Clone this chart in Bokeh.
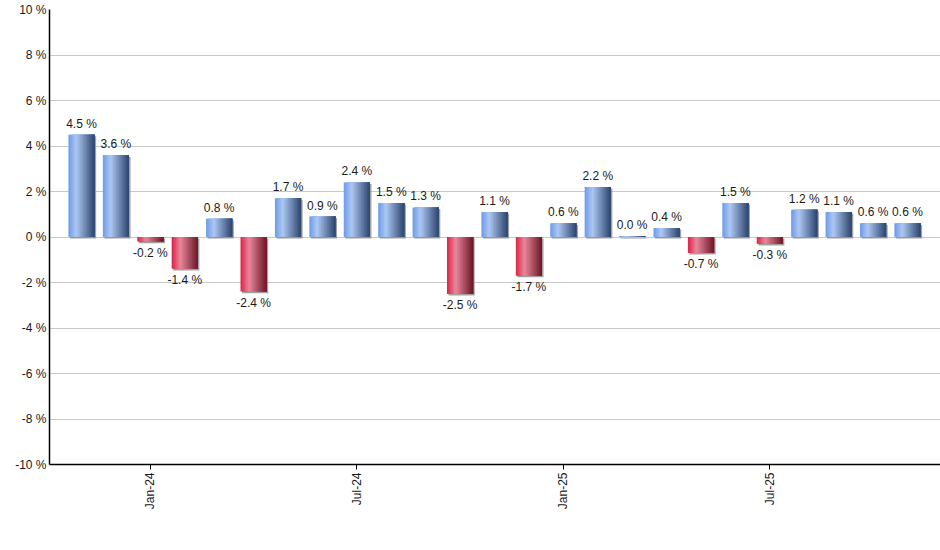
from bokeh.plotting import figure
from bokeh.models import ColumnDataSource, FixedTicker, Range1d
from bokeh.core.properties import value
from bokeh.embed import file_html
from bokeh.resources import INLINE
from math import pi

# monthly change, Nov-23 .. Nov-25
months = ['Nov-23', 'Dec-23', 'Jan-24', 'Feb-24', 'Mar-24', 'Apr-24', 'May-24',
          'Jun-24', 'Jul-24', 'Aug-24', 'Sep-24', 'Oct-24', 'Nov-24', 'Dec-24',
          'Jan-25', 'Feb-25', 'Mar-25', 'Apr-25', 'May-25', 'Jun-25', 'Jul-25',
          'Aug-25', 'Sep-25', 'Oct-25', 'Nov-25']
changes = [4.5, 3.6, -0.2, -1.4, 0.8, -2.4, 1.7, 0.9, 2.4, 1.5, 1.3, -2.5, 1.1,
           -1.7, 0.6, 2.2, 0.04, 0.4, -0.7, 1.5, -0.3, 1.2, 1.1, 0.6, 0.6]
tick_months = ['Jan-24', 'Jul-24', 'Jan-25', 'Jul-25']
y_ticks = [-10, -8, -6, -4, -2, 0, 2, 4, 6, 8, 10]

# gradient stops (left edge, highlight, right edge)
blue_stops = [(0.0, (0x6c, 0x9b, 0xe8)), (0.3, (0xad, 0xc8, 0xf3)), (1.0, (0x2c, 0x44, 0x6e))]
red_stops = [(0.0, (0xdc, 0x22, 0x48)), (0.33, (0xe8, 0x88, 0x9c)), (1.0, (0x6c, 0x16, 0x26))]


def grad(stops, t):
    for (t0, c0), (t1, c1) in zip(stops, stops[1:]):
        if t <= t1:
            f = (t - t0) / (t1 - t0)
            return '#%02x%02x%02x' % tuple(int(a + (b - a) * f) for a, b in zip(c0, c1))
    return '#%02x%02x%02x' % stops[-1][1]


x = list(range(len(months)))
bar_w = 0.76
n_strips = 18

p = figure(width=940, height=550, x_range=Range1d(-0.93, 24.96), y_range=Range1d(-10, 10),
           output_backend="svg", toolbar_location=None,
           min_border_left=49, min_border_right=0, min_border_top=9, min_border_bottom=86)
p.outline_line_color = None
p.background_fill_color = 'white'
p.xgrid.grid_line_color = None
p.ygrid.grid_line_color = '#c8c8c8'
p.ygrid.ticker = FixedTicker(ticks=y_ticks)

# shadow behind bars
p.vbar(x=[i + 0.045 for i in x], width=bar_w,
       top=[max(v, 0) - 0.07 for v in changes], bottom=[min(v, 0) - 0.07 for v in changes],
       fill_color='#8a8a8a', line_color=None, fill_alpha=0.8)

# bars drawn as overlapping strips (each to the bar's right edge) to fake the gradient
ql, qr, qt, qb, qc = [], [], [], [], []
sw = bar_w / n_strips
for i, v in zip(x, changes):
    stops = blue_stops if v >= 0 else red_stops
    for k in range(n_strips):
        t = (k + 0.5) / n_strips
        ql.append(i - bar_w / 2 + k * sw)
        qr.append(i + bar_w / 2)
        qt.append(max(v, 0))
        qb.append(min(v, 0))
        qc.append(grad(stops, t))
p.quad(left=ql, right=qr, top=qt, bottom=qb, fill_color=qc, line_color=None)

# value labels
pos = ColumnDataSource(dict(x=[i for i, v in zip(x, changes) if v >= 0],
                            y=[v for v in changes if v >= 0],
                            t=['%.1f %%' % v for v in changes if v >= 0]))
neg = ColumnDataSource(dict(x=[i for i, v in zip(x, changes) if v < 0],
                            y=[v for v in changes if v < 0],
                            t=['%.1f %%' % v for v in changes if v < 0]))
p.text(x='x', y='y', text='t', source=pos, text_align='center', text_baseline='bottom',
       y_offset=-4, text_font=value('Liberation Sans'), text_font_size='12px', text_color='#1a1a1a')
p.text(x='x', y='y', text='t', source=neg, text_align='center', text_baseline='top',
       y_offset=4, text_font=value('Liberation Sans'), text_font_size='12px', text_color='#1a1a1a')

# axes
p.yaxis.ticker = FixedTicker(ticks=y_ticks)
p.yaxis.major_label_overrides = {t: '%d %%' % t for t in y_ticks}
p.yaxis.major_tick_out = 0
p.yaxis.major_tick_in = 0
p.yaxis.minor_tick_line_color = None
p.yaxis.major_label_standoff = 3

tick_idx = [months.index(m) for m in tick_months]
p.xaxis.ticker = FixedTicker(ticks=tick_idx)
p.xaxis.major_label_overrides = {i: months[i] for i in tick_idx}
p.xaxis.major_label_orientation = pi / 2
p.xaxis.major_tick_out = 5
p.xaxis.major_tick_in = 0
p.xaxis.minor_tick_line_color = None
p.xaxis.major_label_standoff = 3

for ax in (p.xaxis[0], p.yaxis[0]):
    ax.axis_line_color = 'black'
    ax.axis_line_width = 1.5
    ax.major_tick_line_color = 'black'
    ax.major_label_text_font = 'Liberation Sans'
    ax.major_label_text_font_size = '12px'
    ax.major_label_text_color = '#1a1a1a'

open("out.html", "w").write(file_html(p, INLINE))
